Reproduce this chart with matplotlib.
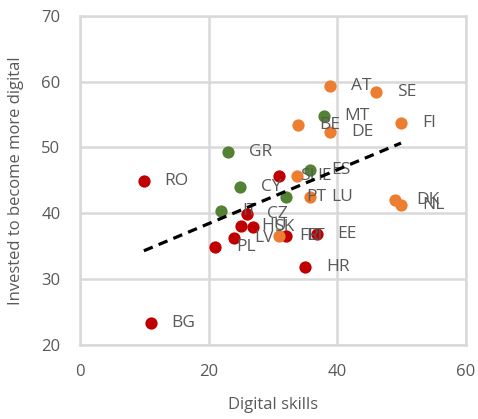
import numpy as np
import matplotlib
matplotlib.use("Agg")
import matplotlib.pyplot as plt

plt.rcParams["font.family"] = ["Open Sans", "DejaVu Sans"]

# low group (red)
red_names = ["RO", "BG", "HR", "PL", "LV", "HU", "SK", "CZ", "LT", "EE", "SI"]
red_x = [9.95, 11.0, 35.0, 21.0, 23.9, 25.0, 26.9, 25.9, 32.0, 36.8, 30.9]
red_y = [44.9, 23.3, 31.9, 34.9, 36.2, 38.1, 37.9, 39.9, 36.5, 36.8, 45.7]

# middle group (green)
green_names = ["IT", "CY", "GR", "PT", "ES", "MT"]
green_x = [22.0, 24.9, 23.0, 32.0, 35.8, 37.9]
green_y = [40.4, 44.0, 49.3, 42.4, 46.6, 54.8]

# high group (orange)
orange_names = ["FR", "IE", "LU", "BE", "DE", "AT", "SE", "FI", "DK", "NL"]
orange_x = [30.9, 33.7, 35.8, 33.9, 38.9, 38.9, 46.0, 49.9, 49.0, 49.9]
orange_y = [36.6, 45.7, 42.4, 53.4, 52.4, 59.4, 58.4, 53.7, 42.0, 41.2]

fig = plt.figure(figsize=(4.78, 4.19), dpi=100)
ax = fig.add_axes([0.167, 0.177, 0.808, 0.785])

txt_col = "#595959"
groups = [
    (red_names, red_x, red_y, "#C00000"),
    (green_names, green_x, green_y, "#548235"),
    (orange_names, orange_x, orange_y, "#ED7D31"),
]
for names, xs, ys, col in groups:
    ax.scatter(xs, ys, s=78, color=col, zorder=3, linewidths=0)
    for n, x, y in zip(names, xs, ys):
        ax.annotate(n, (x, y), xytext=(15, 0), textcoords="offset points",
                    va="center", ha="left", fontsize=12.5, color=txt_col, zorder=4)

# linear trend over all countries
all_x = np.array(red_x + green_x + orange_x)
all_y = np.array(red_y + green_y + orange_y)
b, a = np.polyfit(all_x, all_y, 1)
tx = np.array([all_x.min(), all_x.max()])
ax.plot(tx, a + b * tx, color="black", lw=2.3, ls=(0, (3, 2)), zorder=5)

ax.set_xlim(0, 60)
ax.set_ylim(20, 70)
ax.set_xticks([0, 20, 40, 60])
ax.set_yticks([20, 30, 40, 50, 60, 70])
ax.grid(True, color="#D9D9D9", lw=1.8)
ax.set_axisbelow(True)
for sp in ax.spines.values():
    sp.set_color("#D9D9D9")
    sp.set_linewidth(1.8)
ax.tick_params(length=0, labelsize=12, labelcolor=txt_col, pad=14)
ax.set_xlabel("Digital skills", fontsize=12, color=txt_col, labelpad=12)
ax.set_ylabel("Invested to become more digital", fontsize=12, color=txt_col, labelpad=12)

fig.savefig("out.png", dpi=100)
